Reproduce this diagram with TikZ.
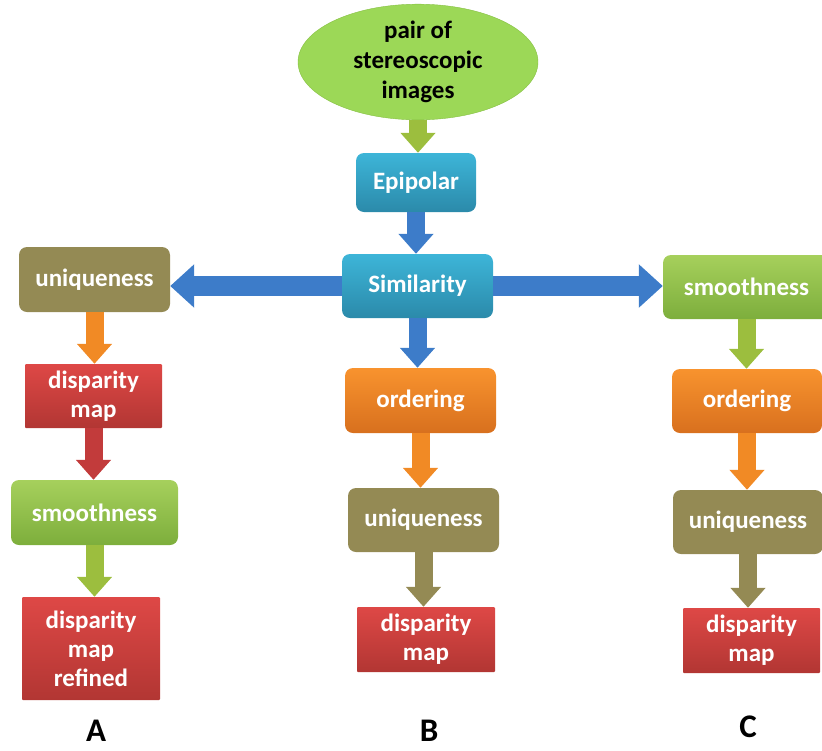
\documentclass[tikz,border=0pt]{standalone}
\usepackage{fontspec}
\setmainfont{Carlito}
\usepackage{xcolor}
\usepackage{tikz}
\usetikzlibrary{arrows.meta,shapes.geometric}
\definecolor{cyanT}{HTML}{3DB5D8}\definecolor{cyanB}{HTML}{2B8AAA}
\definecolor{greenT}{HTML}{A6D05C}\definecolor{greenB}{HTML}{7DAE3C}
\definecolor{orangeT}{HTML}{F8932E}\definecolor{orangeB}{HTML}{D8701E}
\definecolor{redT}{HTML}{DE4846}\definecolor{redB}{HTML}{B23633}
\definecolor{olive}{HTML}{948A54}
\definecolor{lime}{HTML}{9CD857}\definecolor{limeB}{HTML}{86C043}
\definecolor{arrblue}{HTML}{3D7CC9}\definecolor{arrgreen}{HTML}{9CBE3E}
\definecolor{arrorange}{HTML}{F18A25}\definecolor{arrred}{HTML}{C23B3B}
\tikzset{
box/.style={rounded corners=8pt,inner sep=0pt,align=center,text=white,
  font=\fontsize{25}{29}\selectfont\bfseries},
cyanbox/.style={box,top color=cyanT,bottom color=cyanB},
greenbox/.style={box,top color=greenT,bottom color=greenB},
orangebox/.style={box,top color=orangeT,bottom color=orangeB},
olivebox/.style={box,fill=olive},
redbox/.style={box,rounded corners=1pt,top color=redT,bottom color=redB},
flow/.style={line width=18pt,-{Triangle[length=20pt,width=34pt]}},
wide/.style={line width=20pt,-{Triangle[length=24pt,width=42pt]}},
lbl/.style={anchor=base,inner sep=0pt,font=\fontsize{33}{38}\selectfont\bfseries}
}
\begin{document}
\begin{tikzpicture}[x=1pt,y=-1pt]
\useasboundingbox (0,0) rectangle (822,750);
% top of the chain
\node[ellipse,inner sep=0pt,minimum width=240pt,minimum height=100pt,fill=lime,draw=limeB,
  align=center,font=\fontsize{25}{30}\selectfont\bfseries](pair) at (418,62){\rule{0pt}{12pt}pair of\\stereoscopic\\images};
\node[cyanbox,minimum width=120pt,minimum height=59pt](epi) at (416,182.5){Epipolar};
\node[cyanbox,minimum width=151pt,minimum height=64pt](sim) at (417.5,286){Similarity};
% column A
\node[olivebox,minimum width=151pt,minimum height=65pt](uniA) at (94.5,279.5){uniqueness};
\node[redbox,minimum width=137pt,minimum height=64pt](dispA) at (93.5,396){disparity\\map};
\node[greenbox,minimum width=167pt,minimum height=65pt](smoA) at (94.5,512.5){smoothness};
\node[redbox,minimum width=138pt,minimum height=103pt](refA) at (91,648.5){disparity\\map\\refined};
% column B
\node[orangebox,minimum width=151pt,minimum height=65pt](ordB) at (420.5,400.5){ordering};
\node[olivebox,minimum width=151pt,minimum height=64pt](uniB) at (423.5,520){uniqueness};
\node[redbox,minimum width=138pt,minimum height=65pt](dispB) at (426,639.5){disparity\\map};
% column C
\node[greenbox,minimum width=167pt,minimum height=64pt](smoC) at (746.5,287){smoothness};
\node[orangebox,minimum width=150pt,minimum height=64pt](ordC) at (747,401){ordering};
\node[olivebox,minimum width=150pt,minimum height=64pt](uniC) at (748,522){uniqueness};
\node[redbox,minimum width=137pt,minimum height=65pt](dispC) at (751.5,640.5){disparity\\map};
\node[lbl](labA) at (96,741){A};
\node[lbl](labB) at (429,741){B};
\node[lbl](labC) at (748,737){C};
% connectors
\draw[flow,arrgreen](pair.south)--(pair.south|-epi.north);
\draw[flow,arrblue](epi.south)--(epi.south|-sim.north);
\draw[wide,arrblue](sim.west)--(sim.west-|uniA.east);
\draw[wide,arrblue](sim.east)--(sim.east-|smoC.west);
\draw[flow,arrorange](uniA.south)--(uniA.south|-dispA.north);
\draw[flow,arrred](dispA.south)--(dispA.south|-smoA.north);
\draw[flow,arrgreen](smoA.south)--(smoA.south|-refA.north);
\draw[flow,arrblue](sim.south)--(sim.south|-ordB.north);
\draw[flow,arrorange](ordB.south)--(ordB.south|-uniB.north);
\draw[flow,olive](uniB.south)--(uniB.south|-dispB.north);
\draw[flow,arrgreen](smoC.south)--(smoC.south|-ordC.north);
\draw[flow,arrorange](ordC.south)--(ordC.south|-uniC.north);
\draw[flow,olive](uniC.south)--(uniC.south|-dispC.north);
\end{tikzpicture}
\end{document}
